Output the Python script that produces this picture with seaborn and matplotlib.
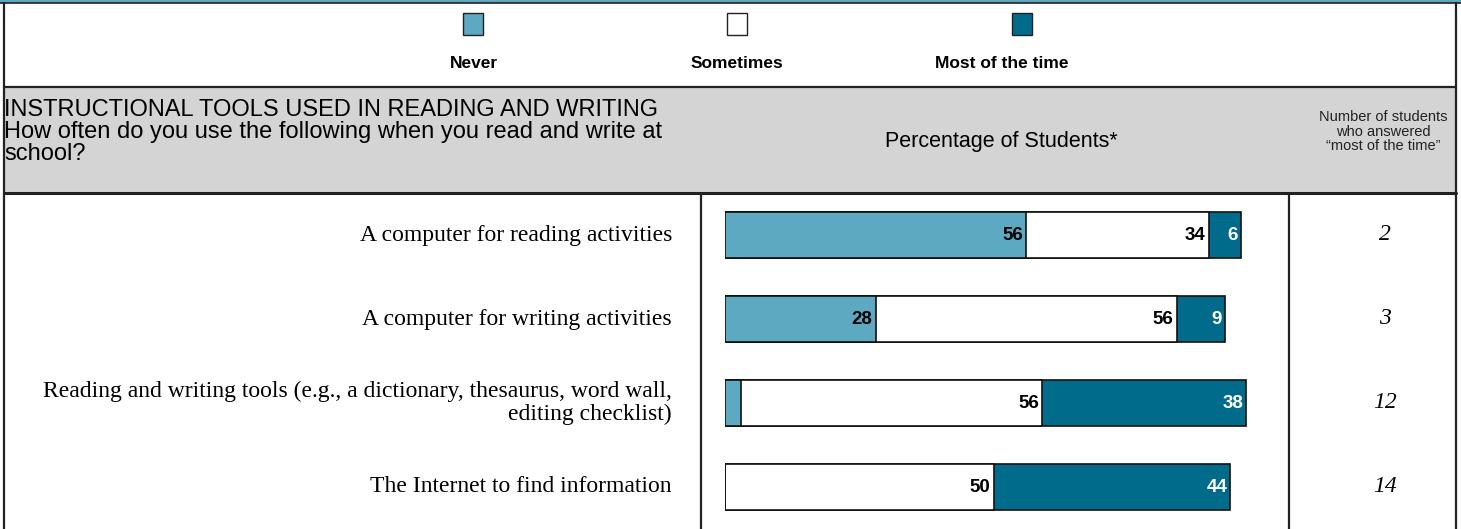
import matplotlib
matplotlib.use("Agg")
import matplotlib.pyplot as plt
import seaborn as sns
import pandas as pd
import numpy as np
from matplotlib.patches import Rectangle

# ---------------- data ----------------
items = [
    "A computer for reading activities",
    "A computer for writing activities",
    "Reading and writing tools (e.g., a dictionary, thesaurus, word wall,\nediting checklist)",
    "The Internet to find information",
]
never = [56, 28, 3, 0]
sometimes = [34, 56, 56, 50]
most = [6, 9, 38, 44]
n_most = ["2", "3", "12", "14"]
legend_labels = ["Never", "Sometimes", "Most of the time"]

LIGHT = "#5DA9C1"
WHITE = "#FFFFFF"
DARK = "#006B8B"
GRAY = "#D4D4D4"

sns.set_theme(style="white")
plt.rcParams["font.family"] = ["Liberation Sans", "DejaVu Sans"]

W, H = 1461, 529
fig = plt.figure(figsize=(W / 100, H / 100), dpi=100)

# background axes in pixel coordinates
bg = fig.add_axes([0, 0, 1, 1])
bg.set_xlim(0, W)
bg.set_ylim(H, 0)
bg.axis("off")

LW = 1.6
# top stripe
bg.add_patch(Rectangle((0, 0), W, 3, facecolor="#5FA6BE", edgecolor="none"))
bg.plot([0, W], [3.2, 3.2], color="#222222", lw=1.2)
# header gray band
bg.add_patch(Rectangle((4, 87), 1452, 106, facecolor=GRAY, edgecolor="none"))
bg.plot([4, 1456], [87, 87], color="#222222", lw=LW)
bg.plot([4, 1456], [193, 193], color="#222222", lw=LW + 0.6)
# outer borders
bg.plot([4, 4], [3, H], color="#222222", lw=LW)
bg.plot([1456, 1456], [3, H], color="#222222", lw=LW)
# body vertical separators
bg.plot([700.5, 700.5], [193, H], color="#222222", lw=LW)
bg.plot([1289, 1289], [193, H], color="#222222", lw=LW)

# legend
leg_sq_x = [473, 737, 1022]
leg_lab_x = [474, 737, 1002]
for c, sx, lx, lab in zip([LIGHT, WHITE, DARK], leg_sq_x, leg_lab_x, legend_labels):
    bg.add_patch(Rectangle((sx - 10, 13), 20, 22, facecolor=c, edgecolor="#222222", lw=1.0))
    bg.text(lx, 64, lab, ha="center", va="center", fontsize=12.5, fontweight="bold", color="black")

# header texts
hdr_lines = [
    "INSTRUCTIONAL TOOLS USED IN READING AND WRITING",
    "How often do you use the following when you read and write at",
    "school?",
]
for i, t in enumerate(hdr_lines):
    bg.text(4, 116 + i * 22, t, ha="left", va="baseline", fontsize=17, color="black")
bg.text(1001, 141, "Percentage of Students*", ha="center", va="center", fontsize=15.5, color="black")
for i, t in enumerate(["Number of students", "who answered", "\u201cmost of the time\u201d"]):
    bg.text(1383, 117 + i * 14.5, t, ha="center", va="center", fontsize=10.5, color="#222222")

# ---------------- bars ----------------
x0_px, px_per = 725, 5.375
ax_left = x0_px / W
ax_width = 100 * px_per / W
ax = fig.add_axes([ax_left, 0, ax_width, (H - 193) / H])
ax.patch.set_alpha(0)

df = pd.DataFrame({"item": items, "never": never, "sometimes": sometimes, "most": most})
df["c2"] = df["never"] + df["sometimes"]
df["c3"] = df["c2"] + df["most"]

bar_kw = dict(orient="h", width=0.55, edgecolor="#111111", linewidth=1.2, ax=ax, saturation=1)
sns.barplot(data=df, x="c3", y="item", color=DARK, **bar_kw)
sns.barplot(data=df, x="c2", y="item", color=WHITE, **bar_kw)
sns.barplot(data=df, x="never", y="item", color=LIGHT, **bar_kw)

ax.set_xlim(0, 100)
ax.set_ylim(3.5, -0.5)
ax.axis("off")

pad = 0.6
for i, r in df.iterrows():
    if r["never"] >= 5:
        ax.text(r["never"] - pad, i, str(r["never"]), ha="right", va="center",
                fontsize=13.5, fontweight="bold", color="black")
    if r["sometimes"] >= 5:
        ax.text(r["c2"] - pad, i, str(r["sometimes"]), ha="right", va="center",
                fontsize=13.5, fontweight="bold", color="black")
    if r["most"] >= 5:
        ax.text(r["c3"] - pad, i, str(r["most"]), ha="right", va="center",
                fontsize=13.5, fontweight="bold", color="white")

# row labels and counts
row_y = [235, 319, 403, 487]
for y, lab, n in zip(row_y, items, n_most):
    bg.text(672, y, lab, ha="right", va="center", fontsize=17, family="Liberation Serif",
            color="black", linespacing=1.15)
    bg.text(1385, y, n, ha="center", va="center", fontsize=17, family="Liberation Serif",
            style="italic", color="black")

fig.savefig("out.png", dpi=100)
